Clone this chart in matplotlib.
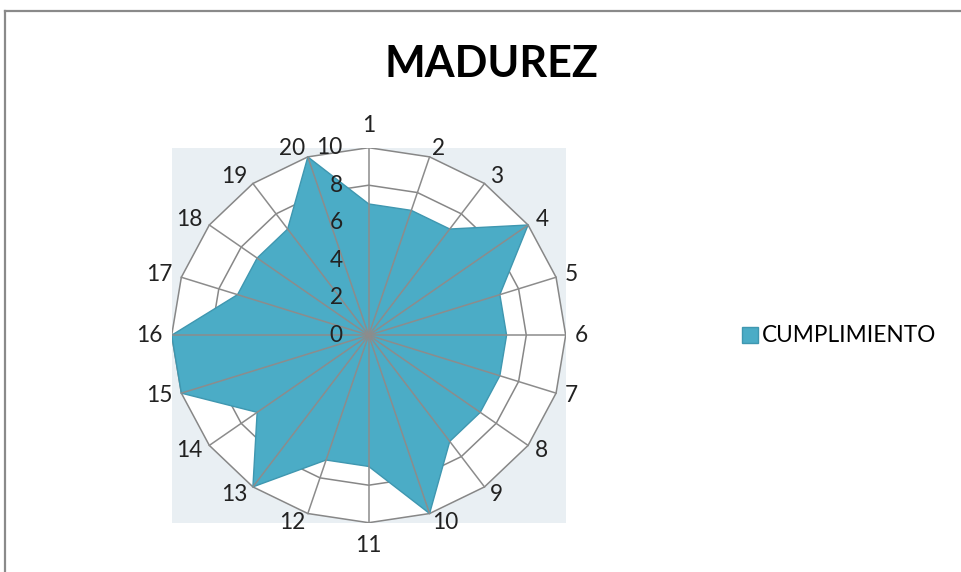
import numpy as np
import matplotlib
matplotlib.use("Agg")
import matplotlib.pyplot as plt
from matplotlib.patches import Polygon, Patch
from matplotlib.lines import Line2D

# ---- data ----
categories = [str(i) for i in range(1, 21)]
cumplimiento = [7, 7, 7, 10, 7, 7, 7, 7, 7, 10, 7, 7, 10, 7, 10, 10, 7, 7, 7, 10]
radial_ticks = [0, 2, 4, 6, 8, 10]
title_text = "MADUREZ"
series_name = "CUMPLIMIENTO"

plt.rcParams['font.family'] = ['Lato', 'DejaVu Sans']

W, H = 961, 572
fig = plt.figure(figsize=(W / 100, H / 100), dpi=100)
px = 72 / 100  # points per pixel

ax = fig.add_axes([171.7 / W, (H - 522.7) / H, 394 / W, 375 / H])
ax.set_xlim(-10, 10)
ax.set_ylim(-10, 10)
ax.set_facecolor('#E9EFF3')
for s in ax.spines.values():
    s.set_visible(False)
ax.set_xticks([])
ax.set_yticks([])

n = len(categories)
theta = np.arange(n) * 2 * np.pi / n
sx, cy = np.sin(theta), np.cos(theta)
rmax = radial_ticks[-1]

ax.add_patch(Polygon(np.c_[rmax * sx, rmax * cy], closed=True,
                     facecolor='white', edgecolor='none', zorder=0.5))
for r in radial_ticks[1:]:
    ax.add_patch(Polygon(np.c_[r * sx, r * cy], closed=True, fill=False,
                         edgecolor='#878787', lw=1.1, zorder=1))

vals = np.array(cumplimiento, dtype=float)
ax.add_patch(Polygon(np.c_[vals * sx, vals * cy], closed=True,
                     facecolor='#4BACC6', edgecolor='#3F97B0', lw=1.0, zorder=2))

for s, c in zip(sx, cy):
    ax.plot([0, rmax * s], [0, rmax * c], color='#8C8C8C', lw=1.1, zorder=3)

fs = 16.3
# category labels
g = 9.0
for lab, s, c in zip(categories, sx, cy):
    if abs(s) < 0.01:
        ha = 'center'
        va = 'bottom' if c > 0 else 'top'
        off = (0, np.sign(c) * 12 * px)
    else:
        ha = 'left' if s > 0 else 'right'
        va = 'center'
        off = (s * g * px, c * g * px)
    ax.annotate(lab, (rmax * s, rmax * c), xytext=off, textcoords='offset points',
                ha=ha, va=va, fontsize=fs, color='#222222', annotation_clip=False, zorder=5)

# radial tick labels
for r in radial_ticks:
    ax.annotate(str(r), (0, r), xytext=(-26 * px, 0), textcoords='offset points',
                ha='right', va='center', fontsize=fs, color='#222222',
                annotation_clip=False, zorder=5)

fig.text(491 / W, 1 - 64 / H, title_text, ha='center', va='center',
         fontsize=31, fontweight='bold', color='black')

fig.legend(handles=[Patch(facecolor='#4BACC6', edgecolor='#3F97B0')],
           labels=[series_name], loc='center left',
           bbox_to_anchor=(741.5 / W, 1 - 336 / H), frameon=False,
           fontsize=fs, handlelength=0.72, handleheight=0.72,
           handletextpad=0.2, borderpad=0, borderaxespad=0)

# outer chart frame
fig.add_artist(Line2D([5 / W, 1], [1 - 11 / H, 1 - 11 / H], transform=fig.transFigure,
                      color='#8A8A8A', lw=1.6))
fig.add_artist(Line2D([5 / W, 5 / W], [0, 1 - 11 / H], transform=fig.transFigure,
                      color='#8A8A8A', lw=1.6))

fig.savefig('out.png', dpi=100)
